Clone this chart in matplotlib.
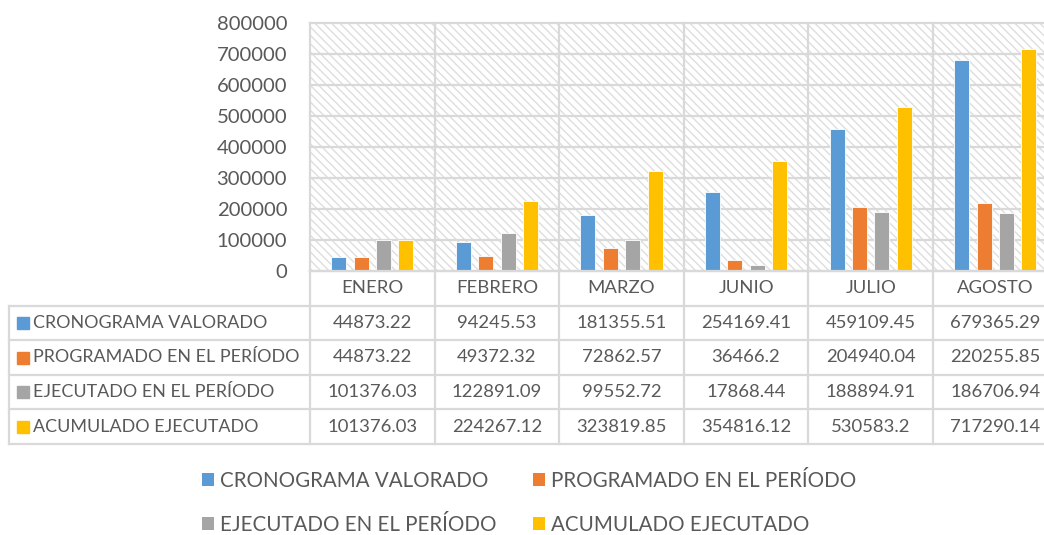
import matplotlib
matplotlib.use("Agg")
import matplotlib.pyplot as plt
from matplotlib.patches import Rectangle
import numpy as np

categories = ["ENERO", "FEBRERO", "MARZO", "JUNIO", "JULIO", "AGOSTO"]
series_names = ["CRONOGRAMA VALORADO", "PROGRAMADO EN EL PERÍODO",
                "EJECUTADO EN EL PERÍODO", "ACUMULADO EJECUTADO"]
cronograma = [44873.22, 94245.53, 181355.51, 254169.41, 459109.45, 679365.29]
programado = [44873.22, 49372.32, 72862.57, 36466.2, 204940.04, 220255.85]
ejecutado = [101376.03, 122891.09, 99552.72, 17868.44, 188894.91, 186706.94]
acumulado = [101376.03, 224267.12, 323819.85, 354816.12, 530583.2, 717290.14]
colors = ["#5B9BD5", "#ED7D31", "#A5A5A5", "#FFC000"]
yticks = [0, 100000, 200000, 300000, 400000, 500000, 600000, 700000, 800000]

series = [cronograma, programado, ejecutado, acumulado]

plt.rcParams['font.family'] = ['Lato', 'DejaVu Sans']
plt.rcParams['hatch.linewidth'] = 1.0
TXT = "#595959"
GRID = "#d9d9d9"

W, H = 1044, 535
fig = plt.figure(figsize=(W / 100, H / 100), dpi=100)

# geometry in pixels
px_left, px_right = 310, 1044
px_top, px_zero = 23, 271
cat_w = 124.6
tbl_left, tbl_bottom = 9, 444

xmax = -0.5 + (px_right - px_left) / cat_w
ax = fig.add_axes([px_left / W, (H - px_zero) / H, (px_right - px_left) / W,
                   (px_zero - px_top) / H])
ax.set_xlim(-0.5, xmax)
ax.set_ylim(0, 800000)
for s in ax.spines.values():
    s.set_visible(False)

bg = Rectangle((0, 0), 1, 1, transform=ax.transAxes, facecolor="white",
               edgecolor="#dedede", hatch="\\\\\\\\", linewidth=0, zorder=0)
ax.add_patch(bg)

x = np.arange(len(categories))
bw = 0.12
step = 0.18
for i, (vals, c, name) in enumerate(zip(series, colors, series_names)):
    ax.bar(x + (i - 1.5) * step, vals, width=bw, color=c, edgecolor="white",
           linewidth=0.6, zorder=3, label=name)

ax.set_yticks(yticks)
ax.set_yticklabels([str(v) for v in yticks])
ax.tick_params(axis='y', length=0, pad=16.5, labelsize=14.6, labelcolor=TXT)
ax.set_xticks([])
for v in yticks:
    ax.axhline(v, color=GRID, lw=1.6, zorder=1, clip_on=False)
for k in range(len(categories) + 1):
    ax.axvline(k - 0.5, color=GRID, lw=1.6, zorder=1, clip_on=False)

# data table
tax = fig.add_axes([tbl_left / W, (H - tbl_bottom) / H, (px_right - tbl_left) / W,
                    (tbl_bottom - px_zero) / H])
tleft = -0.5 - (px_left - tbl_left) / cat_w
tax.set_xlim(tleft, xmax)
tax.set_ylim(5, 0)
tax.axis("off")
nrows = len(series) + 1
for r in range(1, nrows + 1):
    tax.plot([tleft, xmax], [r, r], color=GRID, lw=1.6, clip_on=False)
tax.plot([-0.5, xmax], [0, 0], color=GRID, lw=1.6, clip_on=False)
tax.plot([tleft, tleft], [1, nrows], color=GRID, lw=1.6, clip_on=False)
for k in range(len(categories) + 1):
    tax.plot([k - 0.5, k - 0.5], [0, nrows], color=GRID, lw=1.6, clip_on=False)

for j, cat in enumerate(categories):
    tax.text(j, 0.5, cat, ha="center", va="center", fontsize=13.3, color=TXT)

for i, (vals, c, name) in enumerate(zip(series, colors, series_names)):
    yc = i + 1.5
    tax.plot([tleft + 14 / cat_w], [yc], marker="s", markersize=8.5, color=c,
             linestyle="none", clip_on=False)
    tax.text(tleft + 24 / cat_w, yc, name, ha="left", va="center",
             fontsize=12.9, color=TXT)
    for j, v in enumerate(vals):
        tax.text(j, yc, str(v), ha="center", va="center", fontsize=13.3,
                 color=TXT)

# legend
handles, labels = ax.get_legend_handles_labels()
order = [0, 2, 1, 3]
leg = fig.legend([handles[i] for i in order], [labels[i] for i in order],
                 ncol=2, loc="center", bbox_to_anchor=(529 / W, (H - 503) / H),
                 frameon=False, fontsize=14.8, handlelength=0.6,
                 handleheight=0.6, handletextpad=0.3, labelspacing=1.15,
                 columnspacing=1.75, labelcolor=TXT)
for p in leg.get_patches():
    p.set_edgecolor("none")

fig.savefig("out.png", dpi=100)
